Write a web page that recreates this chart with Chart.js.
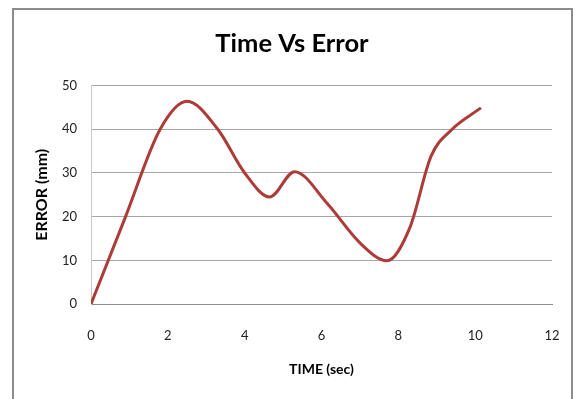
<!DOCTYPE html>
<html>
<head>
<meta charset="utf-8">
<script src="https://cdn.jsdelivr.net/npm/chart.js@4/dist/chart.umd.min.js"></script>
<style>
  html, body { margin:0; padding:0; background:#fff; }
  #wrap { position:relative; width:577px; height:399px; overflow:hidden; }
  #frame { position:absolute; left:12px; top:8px; width:561px; height:420px; border:2px solid #8c8c8c; box-sizing:border-box; }
  canvas { position:absolute; left:0; top:0; }
</style>
</head>
<body>
<div id="wrap">
  <div id="frame"></div>
  <canvas id="c" width="577" height="399"></canvas>
</div>
<script>
const timeValues  = [0, 0.9, 1.8, 2.5, 3.3, 4.0, 4.65, 5.3, 6.15, 7.0, 7.7, 8.3, 8.85, 9.4, 10.15];
const errorValues = [0, 20, 40, 46.4, 40, 30, 24.5, 30.3, 23, 14, 9.9, 17.5, 33.8, 40, 44.9];
const xTicks = [0, 2, 4, 6, 8, 10, 12];
const yTicks = [0, 10, 20, 30, 40, 50];

const points = timeValues.map((t, i) => ({ x: t, y: errorValues[i] }));
const fontFam = "Lato, 'Open Sans', sans-serif";

new Chart(document.getElementById('c'), {
  type: 'line',
  data: {
    datasets: [{
      data: points,
      borderColor: '#ad3b37',
      borderWidth: 3,
      pointRadius: 0,
      cubicInterpolationMode: 'monotone',
      fill: false
    }]
  },
  options: {
    responsive: false,
    animation: false,
    layout: { padding: { left: 20, right: 13, top: 0, bottom: 10 } },
    plugins: {
      legend: { display: false },
      tooltip: { enabled: false },
      title: {
        display: true,
        text: 'Time Vs Error',
        color: '#000',
        font: { family: fontFam, size: 25.5, weight: 'bold' },
        padding: { top: 28, bottom: 27 }
      }
    },
    scales: {
      x: {
        type: 'linear',
        min: 0, max: 12,
        afterBuildTicks: s => { s.ticks = xTicks.map(v => ({ value: v })); },
        afterFit: s => { s.height = 85; s.paddingRight = 25; s.paddingLeft = 0; },
        grid: { display: false, drawTicks: false },
        border: { display: true, color: '#8c8c8c', width: 1 },
        ticks: { color: '#222', font: { family: fontFam, size: 13 }, padding: 24 },
        title: { display: true, text: 'TIME (sec)', color: '#000', font: { family: fontFam, size: 14, weight: 'bold' }, padding: { top: 4, bottom: 11 } }
      },
      y: {
        min: 0, max: 50,
        afterBuildTicks: s => { s.ticks = yTicks.map(v => ({ value: v })); },
        afterFit: s => { s.width = 71; },
        grid: { color: '#a6a6a6', lineWidth: 1, drawTicks: false },
        border: { display: true, color: '#c8c8c8', width: 1 },
        ticks: { color: '#222', font: { family: fontFam, size: 13 }, padding: 14 },
        title: { display: true, text: 'ERROR (mm)', color: '#000', font: { family: fontFam, size: 16, weight: 'bold' }, padding: { top: 12, bottom: 0 } }
      }
    }
  }
});
</script>
</body>
</html>
